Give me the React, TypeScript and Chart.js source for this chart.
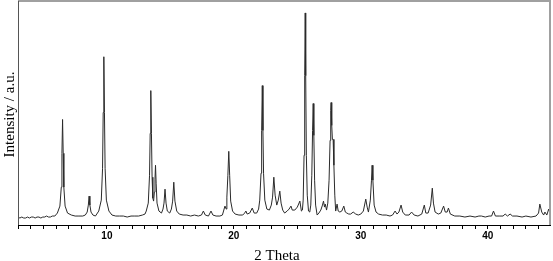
import React, { useEffect, useRef } from "react";
import { Chart, registerables } from "chart.js";

Chart.register(...registerables);

// 2-theta positions (degrees)
const twoTheta: number[] = [
  3.0, 3.15, 3.3, 3.45, 3.6, 3.75, 3.9, 4.05, 4.2, 4.35, 4.5, 4.65, 4.8, 4.95, 5.1, 5.25, 5.4, 5.55, 5.7, 5.9,
  6.1, 6.3, 6.41, 6.46, 6.51, 6.56, 6.61, 6.71, 6.9,
  7.2, 7.5, 7.8, 8.1,
  8.3, 8.45, 8.54, 8.6, 8.66, 8.75, 8.9, 9.1,
  9.36, 9.56, 9.66, 9.71, 9.76, 9.81, 9.86, 9.96, 10.16,
  10.4, 10.7, 11.0, 11.3, 11.6, 11.9, 12.2, 12.5, 12.8, 13.0,
  13.1, 13.26, 13.36, 13.41, 13.46, 13.51, 13.56, 13.62, 13.68, 13.74, 13.79, 13.83, 13.88, 13.95, 14.1, 14.3,
  14.42, 14.5, 14.58, 14.66, 14.76, 14.95,
  15.08, 15.18, 15.27, 15.36, 15.5, 15.7,
  16.0, 16.3, 16.6, 16.9, 17.2, 17.45, 17.6, 17.75, 18.0, 18.2, 18.35, 18.6, 18.9, 19.1, 19.3, 19.4,
  19.45, 19.53, 19.6, 19.67, 19.75, 19.9, 20.1, 20.4, 20.7, 20.85, 20.95, 21.05, 21.25, 21.45, 21.6, 21.8, 21.95,
  22.04, 22.14, 22.19, 22.24, 22.29, 22.34, 22.44, 22.6, 22.8, 22.95,
  23.05, 23.15, 23.25, 23.38, 23.5, 23.62, 23.72, 23.85, 24.0, 24.2, 24.35, 24.5, 24.6, 24.8, 25.0, 25.2, 25.32, 25.4,
  25.46, 25.53, 25.58, 25.62, 25.66, 25.71, 25.78, 25.88, 25.98, 26.06, 26.14, 26.2, 26.25, 26.3, 26.36, 26.44, 26.56,
  26.7, 26.85, 26.98, 27.06, 27.14, 27.2, 27.3, 27.4, 27.5, 27.58, 27.63, 27.66, 27.71, 27.76, 27.82, 27.88, 27.95, 28.02,
  28.13, 28.22, 28.35, 28.5, 28.66, 28.78, 28.9, 29.05, 29.2, 29.4, 29.6, 29.8, 30.0, 30.2, 30.39, 30.5, 30.6, 30.75, 30.84, 30.89, 30.95, 31.05,
  31.2, 31.4, 31.7, 32.0, 32.3, 32.5, 32.7, 32.85, 33.0, 33.17, 33.3, 33.5, 33.8, 34.0, 34.2, 34.5, 34.8,
  35.0, 35.12, 35.3, 35.5, 35.63, 35.72, 35.85, 36.1, 36.3, 36.52, 36.65, 36.8, 36.9, 37.05, 37.4, 37.8,
  38.2, 38.6, 39.0, 39.3, 39.5, 39.8, 40.1, 40.3, 40.45, 40.6, 40.9, 41.2, 41.37, 41.55, 41.76, 41.95,
  42.3, 42.7, 43.0, 43.4, 43.8, 44.0, 44.1, 44.25, 44.4, 44.5, 44.65, 44.8, 44.9,
];

// intensity (arbitrary units) at each position
const intensity: number[] = [
  8, 7, 8, 7, 7, 8, 7, 8, 8, 7, 8, 8, 7, 8, 8, 9, 8, 8, 9, 9,
  12, 19, 38, 72, 106, 72, 38, 19, 12,
  10, 9, 9, 9,
  10, 13, 20, 29, 20, 13, 10, 9,
  14, 25, 57, 113, 169, 113, 57, 25, 14,
  10, 9, 9, 9, 8, 9, 9, 9, 10, 11,
  14, 22, 50, 92, 135, 92, 48, 27, 24, 33, 46, 60, 42, 22, 14, 12,
  16, 22, 36, 22, 14, 12,
  16, 24, 43, 24, 14, 11,
  10, 10, 9, 10, 9, 10, 14, 10, 9, 14, 10, 9, 9, 10, 19, 16,
  28, 50, 74, 50, 24, 14, 11, 10, 10, 12, 14, 11, 12, 17, 12, 12, 16,
  25, 52, 95, 140, 95, 52, 25, 16, 15, 20,
  28, 48, 30, 20, 25, 34, 22, 15, 12, 14, 16, 19, 15, 15, 18, 24, 14, 15,
  25, 70, 150, 213, 150, 70, 30, 14, 13, 20, 50, 95, 122, 90, 45, 20, 10,
  12, 15, 20, 24, 18, 21, 15, 22, 45, 85, 115, 123, 100, 86, 86, 60, 30, 14,
  21, 14, 13, 14, 19, 13, 12, 11, 11, 13, 11, 10, 11, 14, 26, 18, 13, 25, 45, 60, 45, 20,
  13, 11, 10, 10, 9, 10, 14, 11, 13, 20, 13, 10, 10, 13, 10, 9, 11,
  20, 12, 12, 20, 37, 22, 13, 11, 12, 19, 13, 13, 17, 11, 9, 9,
  8, 9, 8, 9, 9, 8, 9, 9, 14, 9, 9, 9, 11, 9, 11, 9,
  9, 8, 9, 8, 9, 12, 21, 13, 10, 13, 10, 16, 12,
];

const xTickValues: number[] = [10, 20, 30, 40];
const xTitle = "2 Theta";
const yTitle = "Intensity / a.u.";

const SERIF = "'Liberation Serif', 'Times New Roman', serif";

const framePlugin = {
  id: "frame",
  afterDraw(chart: any) {
    const { ctx, chartArea } = chart;
    const { left, right, top, bottom } = chartArea;
    ctx.save();
    ctx.strokeStyle = "#a0a0a0";
    ctx.lineWidth = 2;
    ctx.beginPath();
    ctx.moveTo(left, top);
    ctx.lineTo(right, top);
    ctx.lineTo(right, bottom);
    ctx.stroke();
    ctx.strokeStyle = "#555";
    ctx.lineWidth = 1;
    ctx.beginPath();
    ctx.moveTo(left + 0.5, top);
    ctx.lineTo(left + 0.5, bottom);
    ctx.stroke();
    // axis titles
    ctx.fillStyle = "#000";
    ctx.font = `15px ${SERIF}`;
    ctx.textAlign = "center";
    ctx.textBaseline = "alphabetic";
    ctx.fillText(xTitle, 277, 260);
    ctx.translate(14, 114.5);
    ctx.rotate(-Math.PI / 2);
    ctx.fillText(yTitle, 0, 0);
    ctx.restore();
  },
};

export default function App() {
  const ref = useRef<HTMLCanvasElement | null>(null);
  useEffect(() => {
    if (!ref.current) return;
    const pts = twoTheta.map((x, i) => ({ x, y: intensity[i] }));
    const chart = new Chart(ref.current, {
      type: "line",
      data: {
        datasets: [
          {
            data: pts,
            borderColor: "#2a2a2a",
            borderWidth: 1,
            pointRadius: 0,
            tension: 0,
            fill: false,
          },
        ],
      },
      options: {
        animation: false,
        responsive: true,
        maintainAspectRatio: false,
        layout: { padding: { left: 18, right: 3, top: 1, bottom: 18 } },
        plugins: { legend: { display: false }, tooltip: { enabled: false } },
        scales: {
          x: {
            type: "linear",
            min: 3,
            max: 44.9,
            afterBuildTicks(axis: any) {
              const t: any[] = [];
              for (let v = 3; v <= 44; v++) t.push({ value: v });
              axis.ticks = t;
            },
            ticks: {
              autoSkip: false,
              maxRotation: 0,
              padding: 1,
              color: "#000",
              font: { family: "'Liberation Sans', Arial, sans-serif", size: 10, weight: "bold" },
              callback: (v: any) => (xTickValues.includes(Number(v)) ? String(v) : ""),
            },
            grid: { drawOnChartArea: false, drawTicks: true, tickLength: 4, color: "#000" },
            border: { color: "#000", width: 1 },
          },
          y: {
            display: false,
            min: 0,
            max: 225,
          },
        },
      },
      plugins: [framePlugin],
    });
    return () => chart.destroy();
  }, []);
  return (
    <div style={{ position: "fixed", left: 0, top: 0, width: 553, height: 261, background: "#fff" }}>
      <canvas ref={ref} />
    </div>
  );
}
